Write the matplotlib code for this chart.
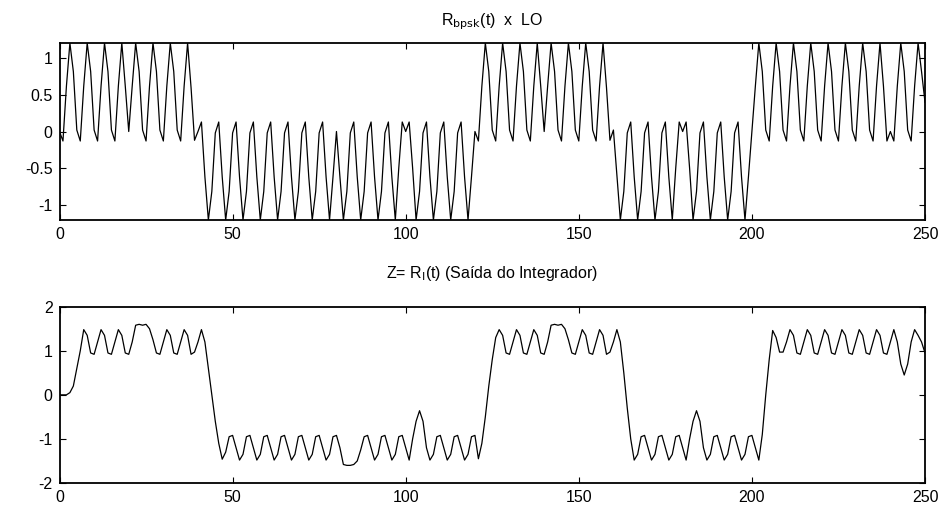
import matplotlib
matplotlib.use("Agg")
import matplotlib.pyplot as plt
import numpy as np

plt.rcParams['font.family'] = ['Liberation Sans', 'DejaVu Sans']

# sample index
t = list(range(0, 251))

# BPSK signal multiplied by the local oscillator
r_lo = [
    0.00, -0.13, 0.62, 1.21, 0.82, 0.02, -0.13, 0.62, 1.21, 0.82,
    0.02, -0.13, 0.62, 1.21, 0.82, 0.02, -0.13, 0.62, 1.21, 0.62,
    0.00, 0.62, 1.21, 0.82, 0.02, -0.13, 0.62, 1.21, 0.82, 0.02,
    -0.13, 0.62, 1.21, 0.82, 0.02, -0.13, 0.62, 1.21, 0.60, -0.12,
    0.00, 0.13, -0.62, -1.21, -0.82, -0.02, 0.13, -0.62, -1.21, -0.82,
    -0.02, 0.13, -0.62, -1.21, -0.82, -0.02, 0.13, -0.62, -1.21, -0.82,
    -0.02, 0.13, -0.62, -1.21, -0.82, -0.02, 0.13, -0.62, -1.21, -0.82,
    -0.02, 0.13, -0.62, -1.21, -0.82, -0.02, 0.13, -0.62, -1.21, -0.62,
    0.00, -0.62, -1.21, -0.82, -0.02, 0.13, -0.62, -1.21, -0.82, -0.02,
    0.13, -0.62, -1.21, -0.82, -0.02, 0.13, -0.62, -1.21, -0.50, 0.13,
    0.00, 0.13, -0.50, -1.21, -0.82, -0.02, 0.13, -0.62, -1.21, -0.82,
    -0.02, 0.13, -0.62, -1.21, -0.82, -0.02, 0.13, -0.62, -1.21, -0.62,
    0.00, -0.13, 0.62, 1.21, 0.82, 0.02, -0.13, 0.62, 1.21, 0.82,
    0.02, -0.13, 0.62, 1.21, 0.82, 0.02, -0.13, 0.62, 1.21, 0.62,
    0.00, 0.62, 1.21, 0.82, 0.02, -0.13, 0.62, 1.21, 0.82, 0.02,
    -0.13, 0.62, 1.21, 0.82, 0.02, -0.13, 0.62, 1.21, 0.60, -0.12,
    0.02, -0.60, -1.21, -0.82, -0.02, 0.13, -0.62, -1.21, -0.82, -0.02,
    0.13, -0.62, -1.21, -0.82, -0.02, 0.13, -0.62, -1.21, -0.50, 0.13,
    0.00, 0.13, -0.50, -1.21, -0.82, -0.02, 0.13, -0.62, -1.21, -0.82,
    -0.02, 0.13, -0.62, -1.21, -0.82, -0.02, 0.13, -0.62, -1.21, -0.62,
    0.00, 0.62, 1.21, 0.82, 0.02, -0.13, 0.62, 1.21, 0.82, 0.02,
    -0.13, 0.62, 1.21, 0.82, 0.02, -0.13, 0.62, 1.21, 0.82, 0.02,
    -0.13, 0.62, 1.21, 0.82, 0.02, -0.13, 0.62, 1.21, 0.82, 0.02,
    -0.13, 0.62, 1.21, 0.82, 0.02, -0.13, 0.62, 1.21, 0.62, -0.13,
    0.00, -0.13, 0.62, 1.21, 0.82, 0.02, -0.13, 0.62, 1.21, 0.82,
    0.40,
]

# integrator output
z_int = [
    0.00, 0.00, 0.00, 0.05, 0.20, 0.60, 1.00, 1.48, 1.35, 0.95,
    0.92, 1.20, 1.48, 1.35, 0.95, 0.92, 1.20, 1.48, 1.35, 0.95,
    0.92, 1.20, 1.58, 1.60, 1.58, 1.60, 1.50, 1.25, 0.95, 0.92,
    1.20, 1.48, 1.35, 0.95, 0.92, 1.20, 1.48, 1.35, 0.92, 0.97,
    1.20, 1.48, 1.20, 0.60, 0.00, -0.60, -1.10, -1.46, -1.30, -0.95,
    -0.92, -1.20, -1.48, -1.35, -0.95, -0.92, -1.20, -1.48, -1.35, -0.95,
    -0.92, -1.20, -1.48, -1.35, -0.95, -0.92, -1.20, -1.48, -1.35, -0.95,
    -0.92, -1.20, -1.48, -1.35, -0.95, -0.92, -1.20, -1.48, -1.35, -0.95,
    -0.92, -1.20, -1.58, -1.60, -1.60, -1.58, -1.50, -1.25, -0.95, -0.92,
    -1.20, -1.48, -1.35, -0.95, -0.92, -1.20, -1.48, -1.35, -0.95, -0.92,
    -1.20, -1.48, -1.00, -0.60, -0.36, -0.60, -1.20, -1.48, -1.35, -0.95,
    -0.92, -1.20, -1.48, -1.35, -0.95, -0.92, -1.20, -1.48, -1.35, -0.95,
    -0.92, -1.45, -1.10, -0.50, 0.20, 0.80, 1.30, 1.48, 1.35, 0.95,
    0.92, 1.20, 1.48, 1.35, 0.95, 0.92, 1.20, 1.48, 1.35, 0.95,
    0.92, 1.20, 1.58, 1.60, 1.58, 1.60, 1.50, 1.25, 0.95, 0.92,
    1.20, 1.48, 1.35, 0.95, 0.92, 1.20, 1.48, 1.35, 0.92, 0.97,
    1.20, 1.48, 1.20, 0.50, -0.30, -1.00, -1.48, -1.35, -0.95, -0.92,
    -1.20, -1.48, -1.35, -0.95, -0.92, -1.20, -1.48, -1.35, -0.95, -0.92,
    -1.20, -1.48, -1.00, -0.60, -0.36, -0.60, -1.20, -1.48, -1.35, -0.95,
    -0.92, -1.20, -1.48, -1.35, -0.95, -0.92, -1.20, -1.48, -1.35, -0.95,
    -0.92, -1.20, -1.48, -0.90, 0.00, 0.80, 1.46, 1.30, 0.97, 0.97,
    1.20, 1.48, 1.35, 0.95, 0.92, 1.20, 1.48, 1.35, 0.95, 0.92,
    1.20, 1.48, 1.35, 0.95, 0.92, 1.20, 1.48, 1.35, 0.95, 0.92,
    1.20, 1.48, 1.35, 0.95, 0.92, 1.20, 1.48, 1.35, 0.95, 0.92,
    1.20, 1.48, 1.20, 0.70, 0.45, 0.70, 1.20, 1.48, 1.35, 1.20,
    0.95,
]

x_ticks = [0, 50, 100, 150, 200, 250]
top_yticks = [-1, -0.5, 0, 0.5, 1]
top_ylabels = ["-1", "-0.5", "0", "0.5", "1"]
bot_yticks = [-2, -1, 0, 1, 2]
bot_ylabels = ["-2", "-1", "0", "1", "2"]

W, H = 946, 509
fig = plt.figure(figsize=(W / 100, H / 100), dpi=100)

def frame(rect):
    ax = fig.add_axes(rect)
    for s in ax.spines.values():
        s.set_linewidth(1.3)
    ax.tick_params(direction="in", top=True, right=True, length=4,
                   width=0.8, labelsize=11.5, pad=5)
    return ax

left = 59.5 / W
width = (925 - 59.5) / W

ax1 = frame([left, 1 - 220 / H, width, (220 - 43) / H])
ax1.plot(t, r_lo, color="black", lw=0.9)
ax1.set_xlim(0, 250)
ax1.set_ylim(-1.21, 1.21)
ax1.set_xticks(x_ticks)
ax1.set_yticks(top_yticks)
ax1.set_yticklabels(top_ylabels)
ax1.set_title(r"R$_{\mathrm{bpsk}}$(t)  x  LO", fontsize=11.5, pad=13)

ax2 = frame([left, 1 - 483 / H, width, (483 - 306.7) / H])
ax2.plot(t, z_int, color="black", lw=0.9)
ax2.set_xlim(0, 250)
ax2.set_ylim(-2, 2)
ax2.set_xticks(x_ticks)
ax2.set_yticks(bot_yticks)
ax2.set_yticklabels(bot_ylabels)
ax2.set_title(r"Z= R$_{\mathrm{I}}$(t) (Saída do Integrador)", fontsize=11.5, pad=21)

fig.savefig("out.png", dpi=100)
